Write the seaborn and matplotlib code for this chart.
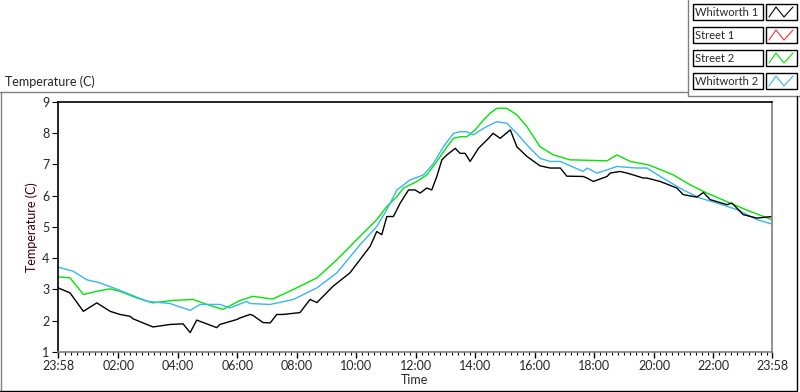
import matplotlib
matplotlib.use('Agg')
import pandas as pd
import seaborn as sns

from matplotlib import pyplot as plt
from matplotlib.lines import Line2D
from matplotlib.patches import Rectangle

# Zeit in Stunden ab Mitternacht, Start 23:58 am Vortag (= -0.033 h)
t_whitworth1 = [-0.03, 0.37, 0.82, 1.27, 1.72, 2.05, 2.39, 2.49, 3.16, 3.73,
                4.17, 4.41, 4.63, 5.30, 5.41, 5.98, 6.09, 6.42, 6.52, 6.86,
                7.10, 7.32, 7.53, 8.10, 8.44, 8.67, 9.21, 9.78, 10.46, 10.68,
                10.85, 11.02, 11.24, 11.47, 11.75, 11.97, 12.14, 12.36, 12.53, 12.70,
                12.87, 13.04, 13.32, 13.48, 13.65, 13.82, 14.10, 14.44, 14.59, 14.83,
                15.17, 15.39, 15.73, 16.17, 16.51, 16.85, 17.07, 17.62, 17.75, 17.96,
                18.42, 18.53, 18.86, 19.09, 19.30, 19.64, 19.76, 20.21, 20.77, 20.98,
                21.44, 21.66, 21.89, 22.45, 22.62, 23.00, 23.46, 23.97]
temp_whitworth1 = [3.05, 2.89, 2.30, 2.57, 2.30, 2.20, 2.14, 2.06, 1.80, 1.88,
                   1.90, 1.62, 2.02, 1.78, 1.88, 2.04, 2.09, 2.20, 2.17, 1.94,
                   1.93, 2.20, 2.20, 2.26, 2.68, 2.58, 3.10, 3.53, 4.38, 4.85,
                   4.75, 5.33, 5.33, 5.76, 6.18, 6.18, 6.08, 6.24, 6.18, 6.61,
                   7.14, 7.30, 7.51, 7.35, 7.35, 7.09, 7.51, 7.83, 7.99, 7.83,
                   8.10, 7.56, 7.25, 6.95, 6.88, 6.88, 6.62, 6.61, 6.56, 6.45,
                   6.61, 6.72, 6.77, 6.72, 6.66, 6.56, 6.56, 6.45, 6.24, 6.03,
                   5.95, 6.10, 5.87, 5.71, 5.76, 5.39, 5.28, 5.33]

# Street 1 hat keine sichtbaren Daten im Diagramm
t_street1 = []
temp_street1 = []

t_street2 = [-0.03, 0.37, 0.82, 1.27, 1.72, 2.05, 2.61, 3.16, 3.83, 4.51,
             4.97, 5.51, 6.09, 6.52, 7.10, 7.20, 7.88, 8.67, 9.34, 10.12,
             10.68, 11.02, 11.36, 11.58, 12.03, 12.36, 12.70, 13.04, 13.26, 13.48,
             13.71, 13.99, 14.27, 14.49, 14.72, 15.05, 15.39, 15.73, 16.17, 16.62,
             17.18, 17.30, 18.42, 18.75, 19.20, 19.82, 20.65, 21.22, 21.78, 22.56,
             23.24, 23.97]
temp_street2 = [3.40, 3.37, 2.84, 2.94, 3.02, 2.94, 2.73, 2.57, 2.65, 2.68,
                2.52, 2.36, 2.65, 2.78, 2.70, 2.70, 3.00, 3.37, 3.95, 4.70,
                5.23, 5.65, 5.97, 6.24, 6.45, 6.66, 7.09, 7.56, 7.83, 7.88,
                7.88, 8.10, 8.42, 8.63, 8.79, 8.79, 8.58, 8.20, 7.56, 7.30,
                7.14, 7.14, 7.11, 7.30, 7.09, 6.98, 6.66, 6.34, 6.08, 5.76,
                5.49, 5.23]

t_whitworth2 = [-0.03, 0.48, 0.93, 1.38, 1.83, 2.39, 2.95, 3.73, 4.41, 4.74,
                5.41, 5.75, 6.31, 6.42, 7.10, 7.88, 8.67, 9.34, 10.12, 10.68,
                11.02, 11.36, 11.80, 12.25, 12.59, 12.92, 13.26, 13.48, 13.71, 13.93,
                14.27, 14.49, 14.72, 15.05, 15.39, 15.73, 16.17, 16.51, 16.85, 17.62,
                17.75, 18.08, 18.42, 18.75, 19.42, 19.76, 20.21, 20.98, 21.55, 22.12,
                22.79, 23.46, 23.97]
temp_whitworth2 = [3.71, 3.58, 3.31, 3.21, 3.05, 2.84, 2.62, 2.55, 2.33, 2.52,
                   2.52, 2.41, 2.62, 2.55, 2.52, 2.68, 3.05, 3.53, 4.43, 5.01,
                   5.55, 6.18, 6.50, 6.66, 7.03, 7.56, 7.99, 8.04, 8.04, 7.94,
                   8.15, 8.26, 8.36, 8.31, 7.99, 7.62, 7.19, 7.09, 7.09, 6.77,
                   6.88, 6.72, 6.82, 6.93, 6.88, 6.88, 6.61, 6.18, 5.92, 5.76,
                   5.55, 5.23, 5.09]

sensoren = ['Whitworth 1', 'Street 1', 'Street 2', 'Whitworth 2']
farben = {
    'Whitworth 1': '#000000',
    'Street 1': '#ff3030',
    'Street 2': '#00e600',
    'Whitworth 2': '#38b6f2',
    }

xtick_pos = [-2 / 60, 2, 4, 6, 8, 10, 12, 14, 16, 18, 20, 22, 24 - 2 / 60]
xtick_labels = ['23:58', '02:00', '04:00', '06:00', '08:00', '10:00', '12:00',
                '14:00', '16:00', '18:00', '20:00', '22:00', '23:58']

# alles in einen langen DataFrame packen
teile = []
for name, t, temp in [('Whitworth 1', t_whitworth1, temp_whitworth1),
                      ('Street 1', t_street1, temp_street1),
                      ('Street 2', t_street2, temp_street2),
                      ('Whitworth 2', t_whitworth2, temp_whitworth2)]:
    teile.append(pd.DataFrame({'Zeit': t, 'Temperatur': temp, 'Sensor': name}))
daten = pd.concat(teile, ignore_index=True)

sns.set_style('white')
plt.rcParams['font.family'] = ['Lato', 'DejaVu Sans']
plt.rcParams['font.size'] = 9

W, H = 800, 392
fig = plt.figure(figsize=(8, 3.92), dpi=100)
ax = fig.add_axes([58 / W, 1 - 352 / H, (772 - 58) / W, (352 - 101.7) / H])

sns.lineplot(data=daten, x='Zeit', y='Temperatur', hue='Sensor',
             hue_order=['Street 2', 'Whitworth 2', 'Whitworth 1'],
             palette=farben, estimator=None, sort=False, legend=False,
             linewidth=1.0, ax=ax)

ax.set_xlim(-2 / 60, 24 - 2 / 60)
ax.set_ylim(1, 9)
ax.set_xticks(xtick_pos)
ax.set_xticklabels(xtick_labels)
ax.set_xticks([i * 0.2 for i in range(1, 120) if i % 10 != 0], minor=True)
ax.set_yticks(range(1, 10))
ax.tick_params(axis='x', which='major', direction='out', length=4, width=1,
               color='black', pad=2, labelsize=9, bottom=True)
ax.tick_params(axis='x', which='minor', direction='out', length=2.2, width=0.8,
               color='black', bottom=True)
ax.tick_params(axis='y', direction='out', length=4.5, width=0.8, color='black',
               pad=1.5, labelsize=9, left=True)
ax.set_xlabel('Time', fontsize=9, labelpad=1.5)
ax.set_ylabel('Temperature (C)', fontsize=9, color='#400000', labelpad=3)
for seite, farbe in [('left', 'black'), ('top', 'black'),
                     ('right', '#808080'), ('bottom', '#808080')]:
    ax.spines[seite].set_visible(True)
    ax.spines[seite].set_color(farbe)
    ax.spines[seite].set_linewidth(1.2)


def px(x, y):
    return x / W, 1 - y / H


def linie(x0, y0, x1, y1, farbe):
    a, b = px(x0, y0)
    c, d = px(x1, y1)
    fig.add_artist(Line2D([a, c], [b, d], color=farbe, lw=1,
                          transform=fig.transFigure))


# Rahmen im LabVIEW-Stil
linie(0, 92, 688, 92, '#808080')
linie(1, 92, 1, 392, '#808080')
linie(688, 0, 688, 96, '#808080')
linie(688, 96, 800, 96, '#808080')
linie(0, 390.5, 797, 390.5, 'black')
linie(797, 96, 797, 391, 'black')

fig.text(5 / W, 1 - 82 / H, 'Temperature (C)', fontsize=9, va='center', ha='left')

# Legende (Plot-Legende oben rechts)
for i, name in enumerate(sensoren):
    oben = 4 + i * 23
    a, b = px(692.5, oben + 16)
    fig.add_artist(Rectangle((a, b), 70 / W, 16 / H, transform=fig.transFigure,
                             facecolor='white', edgecolor='black', lw=1))
    a, b = px(766, oben + 16)
    fig.add_artist(Rectangle((a, b), 31 / W, 16 / H, transform=fig.transFigure,
                             facecolor='white', edgecolor='black', lw=1))
    fig.text(695 / W, 1 - (oben + 8.5) / H, name, fontsize=8, va='center', ha='left')
    zx = [769, 776, 784, 793]
    zy = [oben + 13, oben + 3, oben + 13, oben + 3]
    fig.add_artist(Line2D([x / W for x in zx], [1 - y / H for y in zy],
                          color=farben[name], lw=0.8, transform=fig.transFigure))

fig.savefig('out.png', dpi=100, facecolor='white')
